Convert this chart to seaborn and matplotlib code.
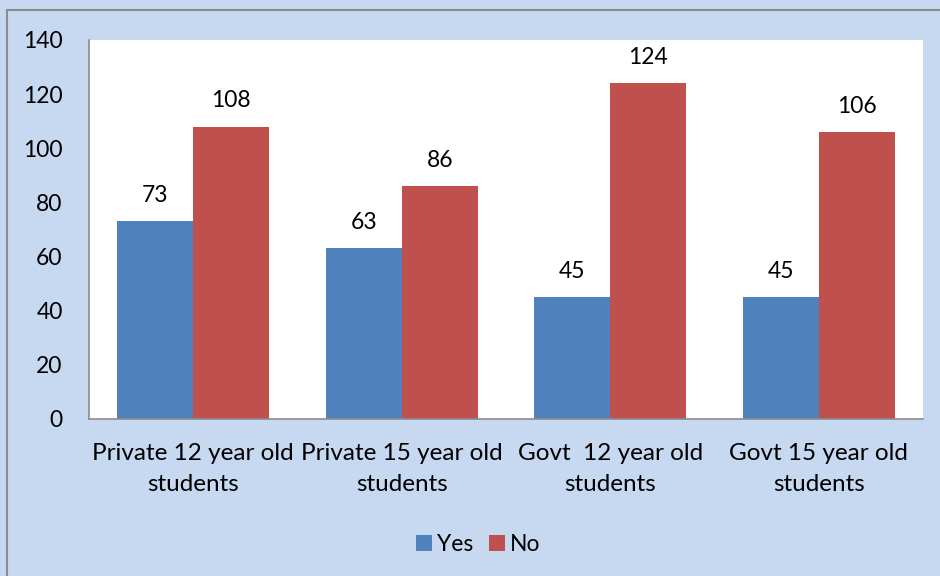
import matplotlib
matplotlib.use('Agg')
import matplotlib.pyplot as plt
import seaborn as sns
import pandas as pd
from matplotlib.patches import Rectangle

categories = ["Private 12 year old\nstudents", "Private 15 year old\nstudents",
              "Govt  12 year old\nstudents", "Govt 15 year old\nstudents"]
yes_vals = [73, 63, 45, 45]
no_vals = [108, 86, 124, 106]
series = ["Yes", "No"]

df = pd.DataFrame({
    "group": categories * 2,
    "answer": ["Yes"] * 4 + ["No"] * 4,
    "count": yes_vals + no_vals,
})

sns.set_style("white")
plt.rcParams['font.family'] = ['Lato', 'DejaVu Sans']
plt.rcParams['text.color'] = 'black'
plt.rcParams['xtick.color'] = 'black'
plt.rcParams['ytick.color'] = 'black'

bg = "#C6D9F0"
fs = 16.5
fig = plt.figure(figsize=(9.4, 5.76), dpi=100, facecolor=bg)
ax = fig.add_axes([0.0947, 0.2726, 0.8873, 0.658])

sns.barplot(data=df, x="group", y="count", hue="answer", hue_order=series,
            palette={"Yes": "#4F81BD", "No": "#C0504D"}, width=0.73,
            saturation=1, linewidth=0, ax=ax, legend=True)

for cont in ax.containers:
    ax.bar_label(cont, padding=11, fontsize=fs, color="black")

ax.set_ylim(0, 140)
ax.set_yticks(range(0, 141, 20))
ax.set_xlim(-0.5, 3.5)
ax.set_xlabel("")
ax.set_ylabel("")
ax.tick_params(axis='both', labelsize=fs, length=0, labelcolor="black")
ax.tick_params(axis='x', pad=17, labelsize=17.5)
ax.tick_params(axis='y', pad=19)
for lbl in ax.get_xticklabels():
    lbl.set_linespacing(1.6)
for s in ["top", "right"]:
    ax.spines[s].set_visible(False)
for s in ["left", "bottom"]:
    ax.spines[s].set_color("#8C8C8C")
    ax.spines[s].set_linewidth(1.2)

leg = ax.legend(loc="center", bbox_to_anchor=(0.509, 0.055), bbox_transform=fig.transFigure,
                ncol=2, frameon=False, fontsize=fs, handlelength=0.7, handleheight=0.7,
                handletextpad=0.2, columnspacing=0.7)

fig.patches.append(Rectangle((7 / 940, -0.01), 1.0, 1 - 10 / 576 + 0.01,
                             transform=fig.transFigure, fill=False,
                             edgecolor="#8C8C8C", linewidth=1.5))

fig.savefig("out.png", dpi=100, facecolor=bg)
